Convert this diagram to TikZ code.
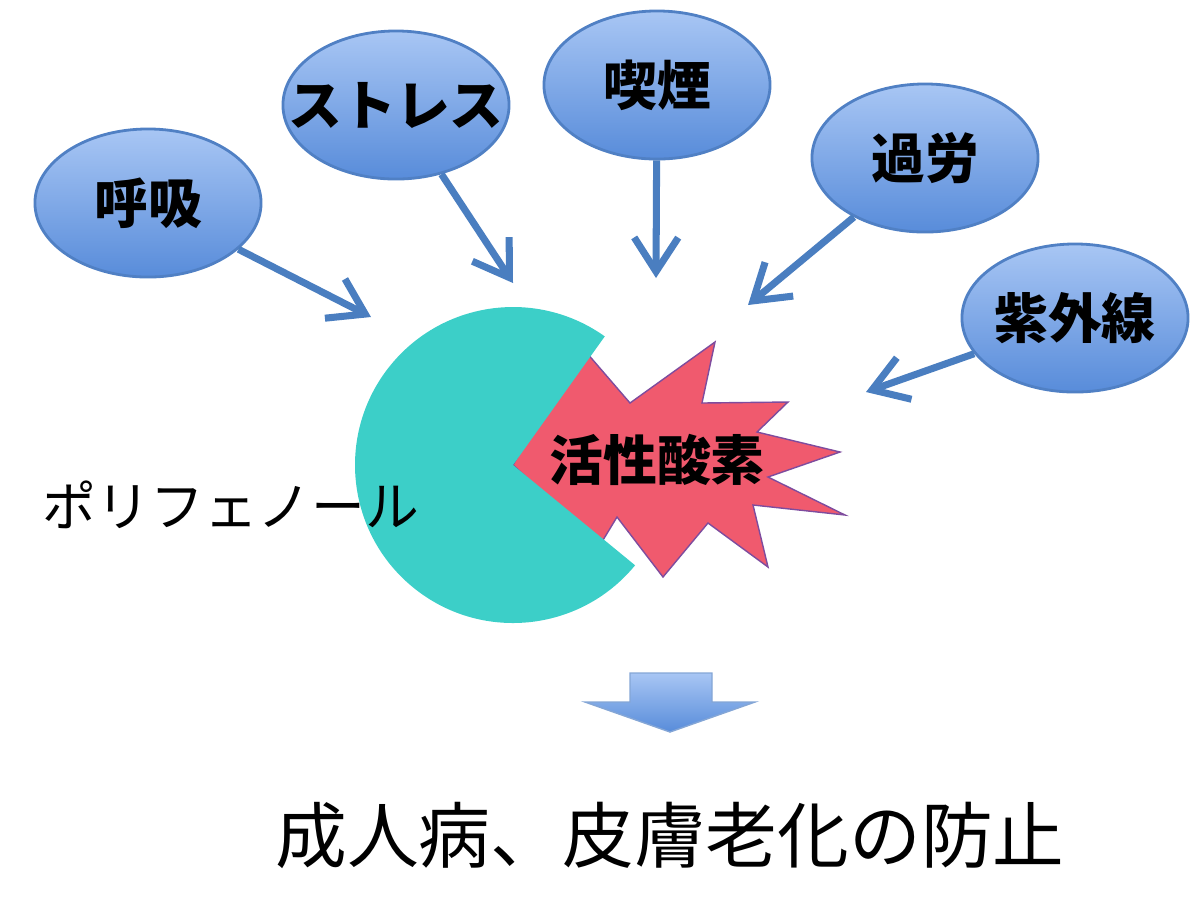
\documentclass[tikz,border=0pt]{standalone}
\usepackage{fontspec}
\usetikzlibrary{arrows.meta,shapes.geometric}
\newfontfamily\jp{Noto Sans CJK JP}
\definecolor{CauseTop}{RGB}{168,198,244}
\definecolor{CauseBot}{RGB}{88,140,218}
\definecolor{CauseLine}{RGB}{80,128,196}
\definecolor{HitBlue}{RGB}{74,126,192}
\definecolor{PacTeal}{RGB}{60,207,200}
\definecolor{BurstRed}{RGB}{240,90,110}
\definecolor{BurstEdge}{RGB}{126,76,158}

\begin{document}
\begin{tikzpicture}[x=.01cm,y=-.01cm,>=Latex,
    cause/.style={ellipse,draw=CauseLine,thick,top color=CauseTop,bottom color=CauseBot,
      minimum width=2.26cm,minimum height=1.48cm,inner xsep=-4mm,inner ysep=-2mm,
      font=\jp\bfseries\fontsize{15.3}{18}\selectfont},
    hit/.style={draw=HitBlue,line width=2pt,-{Straight Barb[length=3.4mm,width=4.4mm]}}]
  \useasboundingbox (0,0) rectangle (1200,920);
  % causes
  \foreach \nm/\x/\y/\txt in {breath/148/203/呼吸,stress/396/105/ストレス,smoke/657/85/喫煙,
      fatigue/925/158/過労,uv/1075/318/紫外線}
    \node[cause] (\nm) at (\x,\y) {\txt};
  \foreach \nm/\x/\y in {breath/371/317,stress/513/283,smoke/656/278,fatigue/748/305,uv/866/392}{
    \coordinate (\nm-tip) at (\x,\y);
    \draw[hit] (\nm) -- (\nm-tip);
  }
  % active oxygen burst
  \draw[fill=BurstRed,draw=BurstEdge,thin] (513,465) -- (580,345) -- (630,403) -- (715,342)
    -- (702,403) -- (788,402) -- (757,432) -- (840,452) -- (768,477) -- (845,515)
    -- (753,505) -- (768,567) -- (708,523) -- (663,577) -- (617,517) -- (600,545) -- cycle;
  % polyphenol
  \fill[PacTeal] (513,465) -- ++(39.4:158) arc[start angle=39.4,end angle=305.5,radius=158] -- cycle;
  \node[font=\jp\fontsize{15.3}{18}\selectfont] (poly) at (231,505) {ポリフェノール};
  \node[font=\jp\bfseries\fontsize{15.3}{18}\selectfont] (ros) at (657,460) {活性酸素};
  % result
  \shade[top color=CauseTop,bottom color=CauseBot,draw=CauseLine!70,thin]
    (630,673) -- (712,673) -- (712,702) -- (755,702) -- (670,732) -- (585,702) -- (630,702) -- cycle;
  \node[font=\jp\fontsize{20.4}{24}\selectfont] (result) at (670,835) {成人病、皮膚老化の防止};
\end{tikzpicture}
\end{document}
